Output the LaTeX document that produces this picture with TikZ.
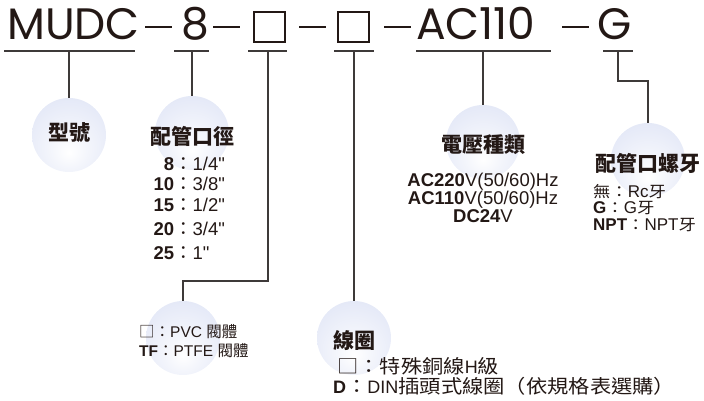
\documentclass[tikz,border=0pt]{standalone}
\usepackage{fontspec}
\setmainfont{Liberation Sans}[Ligatures=TeXOff]
\newfontfamily\cjk{Noto Sans CJK TC}
\newfontfamily\cjkw{Noto Sans CJK TC}[FakeStretch=1.12]
\newfontfamily\titlefont{Poppins}
\newcommand\cjs[2]{{\cjk\fontsize{#1}{#1}\selectfont #2}}
\newcommand\cjw[2]{{\cjkw\fontsize{#1}{#1}\selectfont #2}}
\definecolor{ink}{HTML}{231815}
\definecolor{wire}{HTML}{3E3A39}
\definecolor{ballblue}{RGB}{218,224,244}
\pgfdeclareradialshading{ball}{\pgfpoint{0bp}{-12bp}}{color(0bp)=(white); color(12bp)=(white!70!ballblue); color(45bp)=(ballblue); color(70bp)=(ballblue)}
\tikzset{
  title/.style={font=\titlefont\fontsize{44}{44}\selectfont, text=ink, inner sep=0pt, anchor=base west},
  uline/.style={draw=wire, line width=1.1pt},
  wirel/.style={draw=wire, line width=1.1pt},
  dashbar/.style={draw=ink, line width=2pt},
  codebox/.style={draw=ink, line width=2.4pt, minimum width=30.5pt, minimum height=30pt, inner sep=0pt},
  ball/.style={circle, minimum size=74pt, inner sep=0pt, shading=ball},
  head/.style={font=\cjk\bfseries\fontsize{21}{21}\selectfont, text=ink, inner sep=0pt},
  body/.style={font=\fontsize{#1}{#1}\selectfont, text=ink, inner sep=0pt, text height=0.7*#1, text depth=0.12*#1},
}
\begin{document}
\begin{tikzpicture}[x=1pt,y=-1pt]
\useasboundingbox (0,0) rectangle (704,401);
% balls
\node[ball] (b1) at (69,135) {};
\node[ball] (b2) at (192,133) {};
\node[ball] (b3) at (183,338) {};
\node[ball] (b4) at (354,338) {};
\node[ball] (b5) at (483,142) {};
\node[ball] (b6) at (648,160) {};
% title
\node[title] (t1) at (7,40) {MUDC};
\node[title] (t2) at (181,40) {8};
\node[codebox] (t3) at (269.5,27) {};
\node[codebox] (t4) at (353.5,27) {};
\node[title] (t5) at (416,40) {AC110};
\node[title] (t6) at (597,40) {G};
\coordinate (d1a) at (145,27); \coordinate (d1b) at (172,27);
\coordinate (d2a) at (213,27); \coordinate (d2b) at (240,27);
\coordinate (d3a) at (299,27); \coordinate (d3b) at (326,27);
\coordinate (d4a) at (384,27); \coordinate (d4b) at (411,27);
\coordinate (d5a) at (562,27); \coordinate (d5b) at (589,27);
\foreach \d in {1,...,5} {\draw[dashbar] (d\d a) -- (d\d b);}
% underlines
\coordinate (u1a) at (4,51); \coordinate (u1b) at (135,51); \coordinate (u1) at (69,51);
\coordinate (u2a) at (174,51); \coordinate (u2b) at (209,51); \coordinate (u2) at (192,51);
\coordinate (u3a) at (248,51); \coordinate (u3b) at (287,51); \coordinate (u3) at (268,51);
\coordinate (u4a) at (334,51); \coordinate (u4b) at (374,51); \coordinate (u4) at (354,51);
\coordinate (u5a) at (416,51); \coordinate (u5b) at (551,51); \coordinate (u5) at (483,51);
\coordinate (u6a) at (603,51); \coordinate (u6b) at (633,51); \coordinate (u6) at (618,51);
\foreach \d in {1,...,6} {\draw[uline] (u\d a) -- (u\d b);}
% connectors
\draw[wirel] (u1) -- (b1.north);
\draw[wirel] (u2) -- (b2.north);
\draw[wirel] (u3) |- (b3.north |- 0,281) -- (b3.north);
\draw[wirel] (u4) -- (b4.north);
\draw[wirel] (u5) -- (b5.north);
\draw[wirel] (u6) |- (b6.north |- 0,81) -- (b6.north);
% headings
\node[head] (h1) at (69,133) {型號};
\node[head] (h2) at (192,136) {配管口徑};
\node[head] (h4) at (354,341) {線圈};
\node[head] (h5) at (483,145) {電壓種類};
\node[head] (h6) at (648,163) {配管口螺牙};
% pipe sizes
\node[body=18.5, anchor=west] (p1) at (155,165) {\makebox[19pt][r]{\bfseries 8}\cjs{18.5}{：}1/4"};
\node[body=18.5, anchor=west] (p2) at (155,185) {\makebox[19pt][r]{\bfseries 10}\cjs{18.5}{：}3/8"};
\node[body=18.5, anchor=west] (p3) at (155,206) {\makebox[19pt][r]{\bfseries 15}\cjs{18.5}{：}1/2"};
\node[body=18.5, anchor=west] (p4) at (155,230) {\makebox[19pt][r]{\bfseries 20}\cjs{18.5}{：}3/4"};
\node[body=18.5, anchor=west] (p5) at (155,254) {\makebox[19pt][r]{\bfseries 25}\cjs{18.5}{：}1"};
% body material
\node[body=15.5, anchor=west] (m1) at (139,333) {\cjs{15.5}{□：}PVC \cjs{15.5}{閥體}};
\node[body=15.5, anchor=west] (m2) at (139,352) {\textbf{TF}\cjs{15.5}{：}PTFE \cjs{15.5}{閥體}};
% coil
\node[body=18, anchor=west] (c1) at (337,368) {\cjw{19}{□：特殊銅線}H\cjw{19}{級}};
\node[body=18, anchor=west] (c2) at (333,388) {\textbf{D}\cjw{19}{：}DIN\cjw{19}{插頭式線圈（依規格表選購）}};
% voltage
\node[body=18.5] (v1) at (483,181) {\textbf{AC220}V(50/60)Hz};
\node[body=18.5] (v2) at (483,199) {\textbf{AC110}V(50/60)Hz};
\node[body=18.5] (v3) at (483,217) {\textbf{DC24}V};
% thread
\node[body=17, anchor=west] (g1) at (593,193) {\cjw{15.5}{無：}Rc\cjw{15.5}{牙}};
\node[body=17, anchor=west] (g2) at (593,209) {\textbf{G}\cjw{15.5}{：}G\cjw{15.5}{牙}};
\node[body=17, anchor=west] (g3) at (593,226) {\textbf{NPT}\cjw{15.5}{：}NPT\cjw{15.5}{牙}};
\end{tikzpicture}
\end{document}
